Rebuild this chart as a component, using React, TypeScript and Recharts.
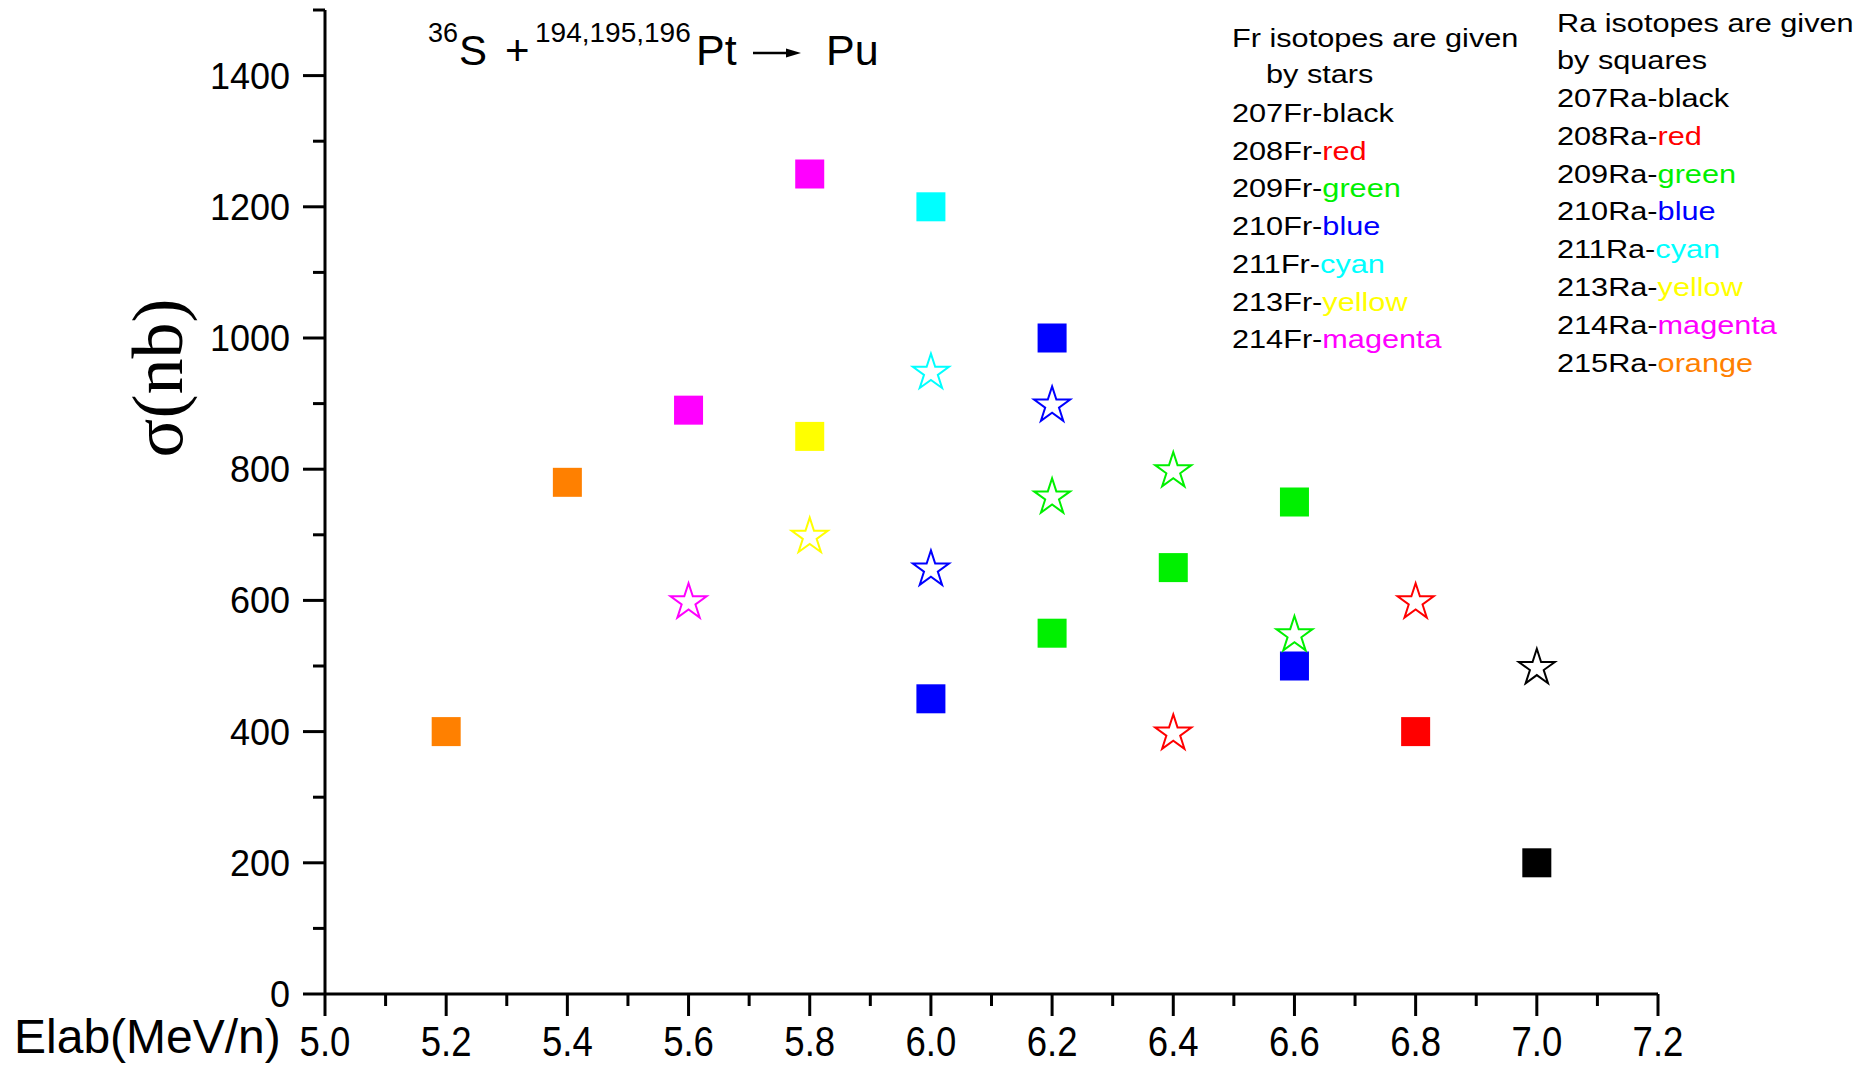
import React from 'react';
import { ScatterChart, Scatter, XAxis, YAxis } from 'recharts';

const W = 1871;
const H = 1065;

// Fr isotopes (stars): Elab (MeV/n) -> sigma (nb)
const fr207 = [{ e: 7.0, s: 500 }];
const fr208 = [{ e: 6.4, s: 400 }, { e: 6.8, s: 600 }];
const fr209 = [{ e: 6.2, s: 760 }, { e: 6.4, s: 800 }, { e: 6.6, s: 550 }];
const fr210 = [{ e: 6.0, s: 650 }, { e: 6.2, s: 900 }];
const fr211 = [{ e: 6.0, s: 950 }];
const fr213 = [{ e: 5.8, s: 700 }];
const fr214 = [{ e: 5.6, s: 600 }];

// Ra isotopes (squares)
const ra207 = [{ e: 7.0, s: 200 }];
const ra208 = [{ e: 6.8, s: 400 }];
const ra209 = [{ e: 6.2, s: 550 }, { e: 6.4, s: 650 }, { e: 6.6, s: 750 }];
const ra210 = [{ e: 6.0, s: 450 }, { e: 6.2, s: 1000 }, { e: 6.6, s: 500 }];
const ra211 = [{ e: 6.0, s: 1200 }];
const ra213 = [{ e: 5.8, s: 850 }];
const ra214 = [{ e: 5.6, s: 890 }, { e: 5.8, s: 1250 }];
const ra215 = [{ e: 5.2, s: 400 }, { e: 5.4, s: 780 }];

const xTicks = [5.0, 5.1, 5.2, 5.3, 5.4, 5.5, 5.6, 5.7, 5.8, 5.9, 6.0, 6.1, 6.2, 6.3, 6.4, 6.5, 6.6, 6.7, 6.8, 6.9, 7.0, 7.1, 7.2];
const yTicks = [0, 100, 200, 300, 400, 500, 600, 700, 800, 900, 1000, 1100, 1200, 1300, 1400, 1500];

const frHeader = ['Fr isotopes are given', 'by stars'];
const raHeader = ['Ra isotopes are given', 'by squares'];
const frLegend = [
  ['207Fr-', 'black'],
  ['208Fr-', 'red'],
  ['209Fr-', 'green'],
  ['210Fr-', 'blue'],
  ['211Fr-', 'cyan'],
  ['213Fr-', 'yellow'],
  ['214Fr-', 'magenta'],
];
const raLegend = [
  ['207Ra-', 'black'],
  ['208Ra-', 'red'],
  ['209Ra-', 'green'],
  ['210Ra-', 'blue'],
  ['211Ra-', 'cyan'],
  ['213Ra-', 'yellow'],
  ['214Ra-', 'magenta'],
  ['215Ra-', 'orange'],
];

const COLORS: Record<string, string> = {
  black: '#000000',
  red: '#ff0000',
  green: '#00f000',
  blue: '#0000ff',
  cyan: '#00ffff',
  yellow: '#ffff00',
  magenta: '#ff00ff',
  orange: '#ff8000',
};

const starSeries = [
  { name: '207Fr', data: fr207, color: 'black' },
  { name: '208Fr', data: fr208, color: 'red' },
  { name: '209Fr', data: fr209, color: 'green' },
  { name: '210Fr', data: fr210, color: 'blue' },
  { name: '211Fr', data: fr211, color: 'cyan' },
  { name: '213Fr', data: fr213, color: 'yellow' },
  { name: '214Fr', data: fr214, color: 'magenta' },
];

const squareSeries = [
  { name: '207Ra', data: ra207, color: 'black' },
  { name: '208Ra', data: ra208, color: 'red' },
  { name: '209Ra', data: ra209, color: 'green' },
  { name: '210Ra', data: ra210, color: 'blue' },
  { name: '211Ra', data: ra211, color: 'cyan' },
  { name: '213Ra', data: ra213, color: 'yellow' },
  { name: '214Ra', data: ra214, color: 'magenta' },
  { name: '215Ra', data: ra215, color: 'orange' },
];

const SANS = "'Liberation Sans', Arial, Helvetica, sans-serif";
const SERIF = "'Liberation Serif', 'Times New Roman', serif";

// 5-point open star, bounding box centred on the point
const starPath = (cx: number, cy: number, r: number) => {
  const inner = r * 0.382;
  const oy = cy + r * 0.0955;
  let d = '';
  for (let i = 0; i < 10; i++) {
    const rad = i % 2 === 0 ? r : inner;
    const a = -Math.PI / 2 + (i * Math.PI) / 5;
    d += (i === 0 ? 'M' : 'L') + (cx + rad * Math.cos(a)).toFixed(2) + ',' + (oy + rad * Math.sin(a)).toFixed(2);
  }
  return d + 'Z';
};

const makeStar = (color: string) => (props: any) => {
  const { cx, cy } = props;
  if (cx == null || cy == null) return <g />;
  return <path d={starPath(cx, cy, 19)} fill="none" stroke={color} strokeWidth={2} strokeLinejoin="miter" />;
};

const makeSquare = (color: string) => (props: any) => {
  const { cx, cy } = props;
  if (cx == null || cy == null) return <g />;
  return <rect x={cx - 14.5} y={cy - 14.5} width={29} height={29} fill={color} />;
};

const YTick = (props: any) => {
  const { x, y, payload } = props;
  const v = payload.value;
  const major = v % 200 === 0;
  return (
    <g>
      <line x1={x} x2={x - (major ? 22 : 12)} y1={y} y2={y} stroke="#000" strokeWidth={3} />
      {major && (
        <text x={x - 35} y={y} dy="0.36em" textAnchor="end" fontSize={36} fontFamily={SANS} fill="#000">
          {v}
        </text>
      )}
    </g>
  );
};

const XTick = (props: any) => {
  const { x, y, payload } = props;
  const v = payload.value;
  const major = Math.round(v * 10) % 2 === 0;
  return (
    <g>
      <line x1={x} x2={x} y1={y} y2={y + (major ? 22 : 12)} stroke="#000" strokeWidth={3} />
      {major && (
        <text
          transform={`translate(${x},${y + 31}) scale(0.85,1)`}
          dy="0.71em"
          textAnchor="middle"
          fontSize={43}
          fontFamily={SANS}
          fill="#000"
        >
          {v.toFixed(1)}
        </text>
      )}
    </g>
  );
};

const LegendLine = ({ x, y, text, word }: { x: number; y: number; text: string; word?: string }) => (
  <g transform={`translate(${x},${y}) scale(1.18,1)`}>
    <text x={0} y={0} fontSize={26} fontFamily={SANS} fill="#000">
      <tspan>{text}</tspan>
      {word && <tspan fill={COLORS[word]}>{word}</tspan>}
    </text>
  </g>
);

const Overlay = () => (
  <svg width={W} height={H} style={{ position: 'absolute', left: 0, top: 0, pointerEvents: 'none' }}>
    {/* title: 36S + 194,195,196Pt -> Pu */}
    <g fontFamily={SANS} fill="#000">
      <text x={428} y={42} fontSize={27}>36</text>
      <text x={459} y={65} fontSize={42}>S</text>
      <text x={505} y={65} fontSize={42}>+</text>
      <text x={535} y={42} fontSize={28}>194,195,196</text>
      <text x={696} y={65} fontSize={43}>Pt</text>
      <text x={826} y={65} fontSize={43}>Pu</text>
    </g>
    {/* reaction arrow */}
    <line x1={753} y1={53} x2={788} y2={53} stroke="#000" strokeWidth={2.5} />
    <polygon points="786,48.5 801,53 786,57.5" fill="#000" />

    {/* axis titles */}
    <text transform="translate(182,378) rotate(-90)" textAnchor="middle" fontSize={72} fontFamily={SERIF} fill="#000">
      σ(nb)
    </text>
    <text x={14} y={1053} fontSize={48} fontFamily={SANS} fill="#000">
      Elab(MeV/n)
    </text>

    {/* Fr legend */}
    <LegendLine x={1232} y={47} text={frHeader[0]} />
    <LegendLine x={1266} y={83} text={frHeader[1]} />
    {frLegend.map(([t, w], i) => (
      <LegendLine key={t} x={1232} y={122 + i * 37.7} text={t} word={w} />
    ))}

    {/* Ra legend */}
    <LegendLine x={1557} y={32} text={raHeader[0]} />
    <LegendLine x={1557} y={69} text={raHeader[1]} />
    {raLegend.map(([t, w], i) => (
      <LegendLine key={t} x={1557} y={107 + i * 37.8} text={t} word={w} />
    ))}
  </svg>
);

export default function App() {
  return (
    <div style={{ position: 'absolute', left: 0, top: 0, width: W, height: H, background: '#fff' }}>
      <ScatterChart width={W} height={H} margin={{ top: 10, right: 213, bottom: 0, left: 0 }}>
        <XAxis
          type="number"
          dataKey="e"
          domain={[5.0, 7.2]}
          ticks={xTicks}
          interval={0}
          height={71}
          tickSize={0}
          tickMargin={0}
          tickLine={false}
          tick={<XTick />}
          axisLine={{ stroke: '#000', strokeWidth: 3 }}
        />
        <YAxis
          type="number"
          dataKey="s"
          domain={[0, 1500]}
          ticks={yTicks}
          interval={0}
          width={325}
          tickSize={0}
          tickMargin={0}
          tickLine={false}
          tick={<YTick />}
          axisLine={{ stroke: '#000', strokeWidth: 3 }}
        />
        {squareSeries.map((s) => (
          <Scatter
            key={s.name}
            name={s.name}
            data={s.data}
            isAnimationActive={false}
            shape={makeSquare(COLORS[s.color])}
          />
        ))}
        {starSeries.map((s) => (
          <Scatter
            key={s.name}
            name={s.name}
            data={s.data}
            isAnimationActive={false}
            shape={makeStar(COLORS[s.color])}
          />
        ))}
      </ScatterChart>
      <Overlay />
    </div>
  );
}
